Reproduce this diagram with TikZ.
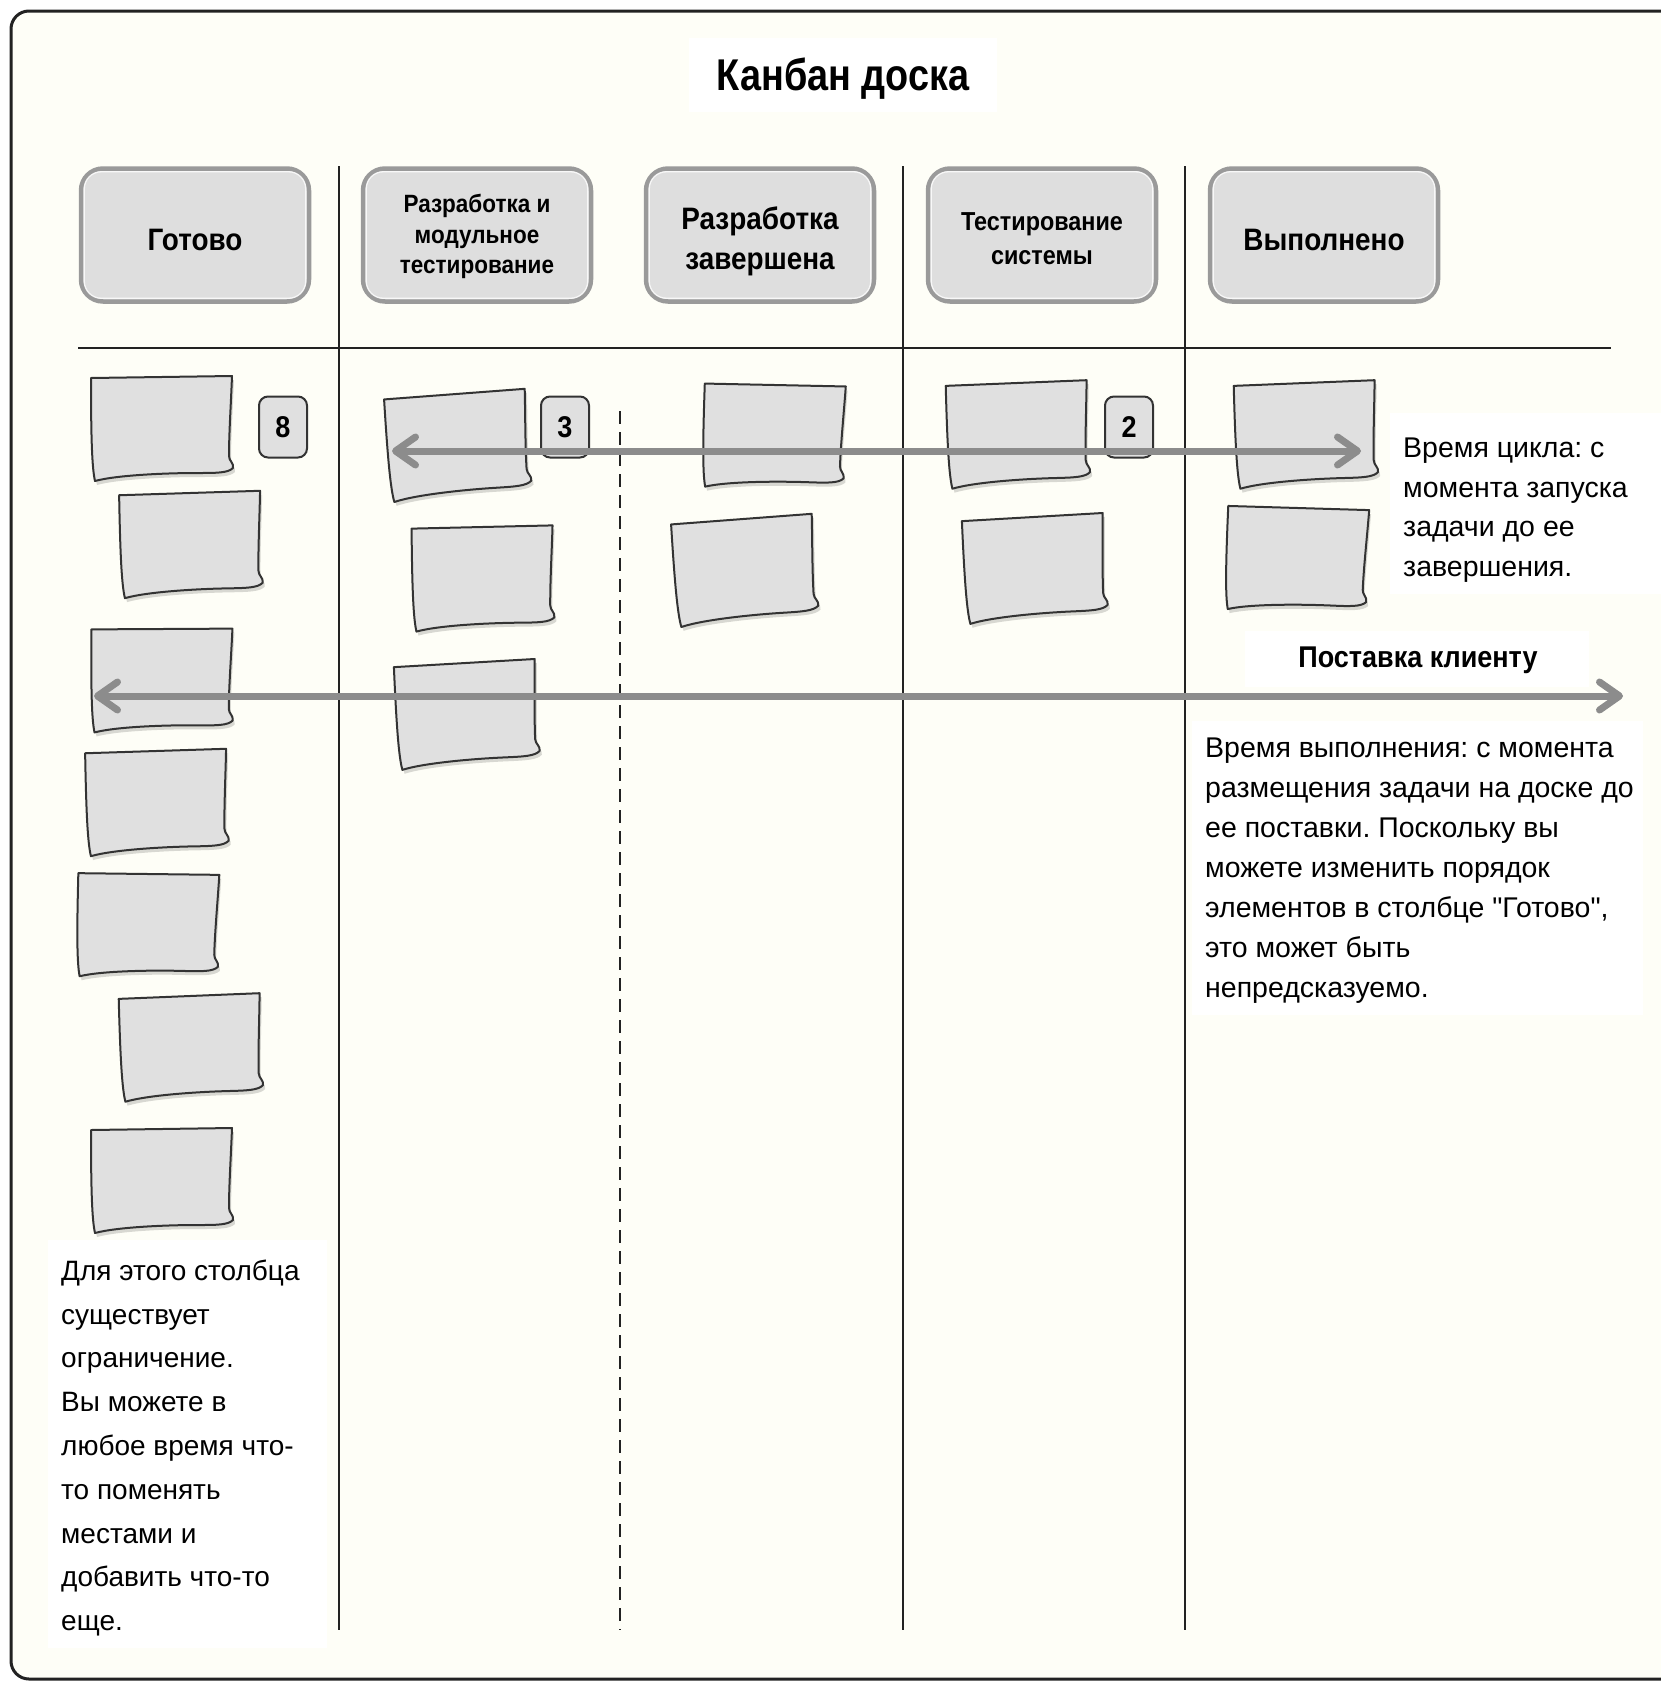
\documentclass[tikz,border=0pt]{standalone}
\usepackage{fontspec}
\setmainfont{Liberation Sans}
\newfontfamily\headfont{Liberation Sans}[FakeStretch=0.9]
\newfontfamily\titlefont{Liberation Sans}[FakeStretch=0.85]
% plain font without tex-text mapping, for straight double quotes
\font\sqfont="Liberation Sans" at 28.5pt
\usetikzlibrary{arrows.meta}
\frenchspacing

\definecolor{board}{HTML}{FEFEF7}
\definecolor{ink}{HTML}{222222}
\definecolor{cardfill}{HTML}{E0E0E0}
\definecolor{cardline}{HTML}{333333}
\definecolor{headfill}{HTML}{DEDEDE}
\definecolor{headline}{HTML}{9A9A9A}
\definecolor{flowgray}{HTML}{8C8C8C}

% struts fixing the first-line height and last-line depth of a heading
\newcommand\lineht[1]{\rule{0pt}{#1pt}}
\newcommand\linedp{\rule[-9pt]{0pt}{9pt}}

% a hand-drawn sticky card, centred on its position
\tikzset{
  pics/card/.style={code={
    \begin{scope}[shift={(2,4)}]
      \fill[black,opacity=.15] (-71,-50) -- (70,-52)
        .. controls (69,-25) and (67,5) .. (67,28)
        .. controls (67,33) and (72,35) .. (71,40)
        .. controls (66,45) and (55,45) .. (35,45)
        .. controls (5,45) and (-45,47) .. (-67,53)
        .. controls (-70,40) and (-71,10) .. cycle;
    \end{scope}
    \filldraw[fill=cardfill, draw=cardline, line width=2pt, line join=round]
      (-71,-50) -- (70,-52)
        .. controls (69,-25) and (67,5) .. (67,28)
        .. controls (67,33) and (72,35) .. (71,40)
        .. controls (66,45) and (55,45) .. (35,45)
        .. controls (5,45) and (-45,47) .. (-67,53)
        .. controls (-70,40) and (-71,10) .. cycle;
  }},
}

\begin{document}
\begin{tikzpicture}[x=1pt, y=-1pt,
  every node/.style={inner sep=0pt},
  colhead/.style={draw=headline, line width=4.5pt, fill=headfill,
    rounded corners=22pt, minimum width=228pt, minimum height=133pt,
    align=center, font=\headfont\bfseries\fontsize{31}{40.5}\selectfont},
  wiplimit/.style={draw=cardline, line width=2pt, fill=cardfill,
    rounded corners=9pt, minimum width=48pt, minimum height=61pt,
    font=\headfont\bfseries\fontsize{30}{30}\selectfont},
  remark/.style={align=left, anchor=north west,
    font=\fontsize{28.5}{39.8}\selectfont},
  boardline/.style={draw=ink, line width=2.4pt},
  frame/.style={draw=ink, line width=3pt, rounded corners=18pt, fill=board},
  gloss/.style={draw=white, opacity=.8, line width=1.3pt, rounded corners=17pt},
  flow/.style={draw=flowgray, line width=7pt, line cap=round,
    {Straight Barb[length=20pt,width=28pt,round]}-{Straight Barb[length=20pt,width=28pt,round]}},
]
\useasboundingbox (0,0) rectangle (1661,1684);
\clip (0,0) rectangle (1661,1684);
\fill[white] (0,0) rectangle (1661,1684);
\draw[frame] (11,11) rectangle (1720,1679);

% white panels behind the captions
\fill[white] (689,38) rectangle (997,112);
\fill[white] (1390,413) rectangle (1661,594);
\fill[white] (1245,631) rectangle (1589,687);
\fill[white] (1192,721) rectangle (1643,1015);
\fill[white] (48,1240) rectangle (327,1648);

% board grid
\draw[boardline] (78,348) -- (1611,348);
\draw[boardline] (339,166) -- (339,1630);
\draw[boardline] (903,166) -- (903,1630);
\draw[boardline] (1185,166) -- (1185,1630);
\draw[boardline, dash pattern=on 13pt off 8pt] (620,411) -- (620,1630);

% title and column heads
\node[font=\titlefont\bfseries\fontsize{44.5}{44.5}\selectfont, anchor=base] (title) at (843,90) {Канбан доска};
\node[colhead] (h1) at (195,235) {\lineht{39}Готово\linedp};
\node[colhead, font=\headfont\bfseries\fontsize{25}{30.5}\selectfont] (h2) at (477,235) {\lineht{25}Разработка и\\модульное\\тестирование\linedp};
\node[colhead] (h3) at (760,235) {\lineht{38.3}Разработка\\завершена\linedp};
\node[colhead, font=\headfont\bfseries\fontsize{26}{33.3}\selectfont] (h4) at (1042,235) {\lineht{33.9}Тестирование\\системы\linedp};
\node[colhead] (h5) at (1324,235) {\lineht{39}Выполнено\linedp};
\foreach \h in {h1,h2,h3,h4,h5}
  \draw[gloss] ([shift={(5.5,5.5)}]\h.north west) rectangle ([shift={(-5.5,-5.5)}]\h.south east);

% cards
\pic[rotate=0] (n1) at (162,428) {card};
\pic[rotate=1] (n2) at (191,544) {card};
\pic[rotate=-0.5] (n3) at (162,680) {card};
\pic[rotate=1] (n4) at (157,802) {card};
\pic[rotate=-1.5] (n5) at (148,925) {card};
\pic[rotate=1.5] (n6) at (191,1047) {card};
\pic[rotate=0] (n7) at (162,1180) {card};
\pic[rotate=3.5] (m1) at (458,445) {card};
\pic[rotate=0.5] (m2) at (483,578) {card};
\pic[rotate=2.5] (m3) at (467,714) {card};
\pic[rotate=-2] (p1) at (774,436) {card};
\pic[rotate=3.5] (p2) at (745,570) {card};
\pic[rotate=1.5] (q1) at (1018,434) {card};
\pic[rotate=2.5] (q2) at (1035,568) {card};
\pic[rotate=1.5] (r1) at (1306,434) {card};
\pic[rotate=-2.5] (r2) at (1297,559) {card};

% WIP limits
\node[wiplimit] (lim8) at (283,427) {8};
\node[wiplimit] (lim3) at (565,427) {3};
\node[wiplimit] (lim2) at (1129,427) {2};

% captions
\node[remark] (cycletext) at (1403,433) {\rule{0pt}{24pt}Время цикла: с\\момента запуска\\задачи до ее\\завершения.};
\node[font=\headfont\bfseries\fontsize{30}{30}\selectfont, anchor=base] (deliv) at (1418,667) {Поставка клиенту};
\node[remark, font=\fontsize{28.5}{40}\selectfont] (leadtext) at (1205,733) {\rule{0pt}{24pt}Время выполнения: с момента\\размещения задачи на доске до\\ее поставки. Поскольку вы\\можете изменить порядок\\элементов в столбце {\sqfont"}Готово{\sqfont"},\\это может быть\\непредсказуемо.};
\node[remark, font=\fontsize{28}{43.8}\selectfont] (limtext) at (61,1256) {\rule{0pt}{24pt}Для этого столбца\\существует\\ограничение.\\Вы можете в\\любое время что-\\то поменять\\местами и\\добавить что-то\\еще.};

% cycle time and lead time spans
\coordinate (cycA) at (392,451);
\coordinate (cycB) at (1361,451);
\coordinate (leadA) at (94,696);
\coordinate (leadB) at (1623,696);
\draw[flow] (cycA) -- (cycB);
\draw[flow] (leadA) -- (leadB);
\end{tikzpicture}
\end{document}
